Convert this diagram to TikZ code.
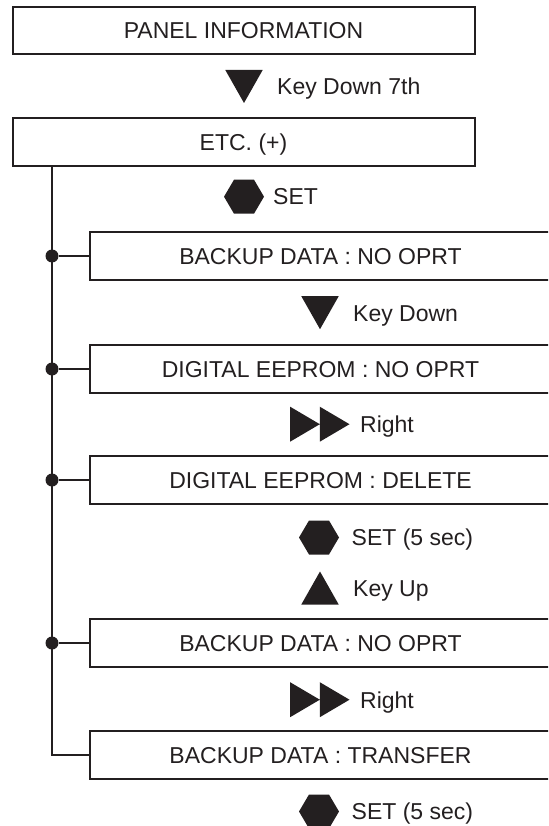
\documentclass[tikz,border=0pt]{standalone}
\usepackage{fontspec}
\setmainfont{Liberation Sans}
\definecolor{ink}{HTML}{231F20}

\newcommand{\tkeydown}[1]{\fill[key,shift={#1}] (-18.7,-16.5) -- (18.7,-16.5) -- (0,16.5) -- cycle;}
\newcommand{\tkeyup}[1]{\fill[key,shift={#1}] (-18.7,16.5) -- (18.7,16.5) -- (0,-16.5) -- cycle;}
\newcommand{\tkeyset}[1]{\fill[key,shift={#1}] (-20,0) -- (-10,-17) -- (10,-17) -- (20,0) -- (10,17) -- (-10,17) -- cycle;}
\newcommand{\tkeyright}[1]{\fill[key,shift={#1}] (-29.7,-17.5) -- (0,0) -- (-29.7,17.5) -- cycle (0,-17.5) -- (29.7,0) -- (0,17.5) -- cycle;}

\tikzset{
    menubox/.style={draw=ink, line width=2pt, minimum width=462pt, minimum height=47.5pt,
        inner sep=0pt, text height=16.5pt, text depth=0pt, text=ink,
        font=\fontsize{23}{27}\selectfont},
    keytext/.style={anchor=base west, inner sep=0pt, text=ink, font=\fontsize{23}{27}\selectfont},
    key/.style={fill=ink},
    link/.style={draw=ink, line width=1.2pt},
    junction/.style={circle, fill=ink, inner sep=0pt, minimum size=13pt},
}

\begin{document}
\begin{tikzpicture}[x=1pt, y=-1pt]
    \useasboundingbox (0,0) rectangle (548,826);
    \clip (0,0) rectangle (548,826);

    % Menu boxes
    \node[menubox] (panel) at (243.5,30.4) {PANEL INFORMATION};
    \node[menubox] (etc) at (243.5,142) {ETC. (+)};
    \node[menubox] (bkup1) at (320.5,256) {BACKUP DATA : NO OPRT};
    \node[menubox] (eepno) at (320.5,369) {DIGITAL EEPROM : NO OPRT};
    \node[menubox] (eepdel) at (320.5,480) {DIGITAL EEPROM : DELETE};
    \node[menubox] (bkup2) at (320.5,643) {BACKUP DATA : NO OPRT};
    \node[menubox] (bktr) at (320.5,755) {BACKUP DATA : TRANSFER};

    % Keys
    \tkeydown{(244,86.5)}
    \node[keytext] (k1) at (277,94.8) {Key Down 7th};
    \tkeyset{(244,196.7)}
    \node[keytext] (k2) at (273,205) {SET};
    \tkeydown{(320,312.7)}
    \node[keytext] (k3) at (353,321) {Key Down};
    \tkeyright{(319.8,424.2)}
    \node[keytext] (k4) at (360,432.5) {Right};
    \tkeyset{(319,537.5)}
    \node[keytext] (k5) at (351.5,545.8) {SET (5 sec)};
    \tkeyup{(320,588)}
    \node[keytext] (k6) at (353,596.3) {Key Up};
    \tkeyright{(319.8,699.7)}
    \node[keytext] (k7) at (360,708) {Right};
    \tkeyset{(319,811.5)}
    \node[keytext] (k8) at (351.5,819.8) {SET (5 sec)};

    % Tree line
    \coordinate (x0) at (52,0);
    \coordinate (trunk) at (etc.south -| x0);
    \draw[link] (trunk) |- (bktr.west);
    \foreach \b/\j in {bkup1/j1, eepno/j2, eepdel/j3, bkup2/j4} {
        \node[junction] (\j) at (trunk |- \b.west) {};
        \draw[link] (\j) -- (\b.west);
    }
\end{tikzpicture}
\end{document}
